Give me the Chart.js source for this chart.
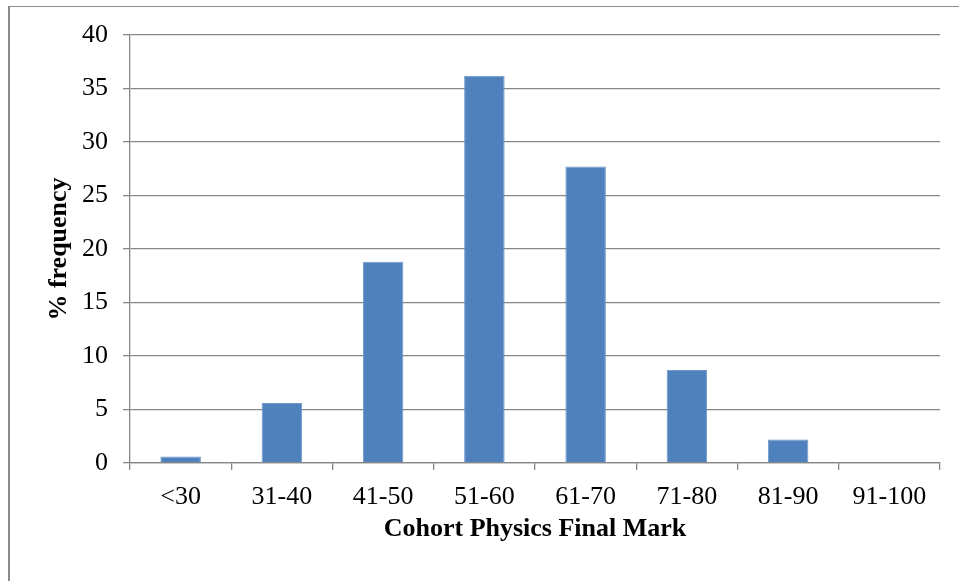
<!DOCTYPE html>
<html>
<head>
<meta charset="utf-8">
<script src="https://cdn.jsdelivr.net/npm/chart.js@4/dist/chart.umd.min.js"></script>
<style>
  html, body { margin: 0; padding: 0; background: #fff; }
  #wrap { position: relative; width: 959px; height: 581px; overflow: hidden; }
  #frame { position: absolute; left: 8px; top: 6px; width: 1000px; height: 700px;
           border-top: 1px solid #8c8c8c; border-left: 2px solid #8c8c8c; }
  canvas { position: absolute; left: 0; top: 0; }
</style>
</head>
<body>
<div id="wrap">
  <div id="frame"></div>
  <canvas id="chart" width="959" height="581"></canvas>
</div>
<script>
const categories = ['<30', '31-40', '41-50', '51-60', '61-70', '71-80', '81-90', '91-100'];
const frequency = [0.6, 5.6, 18.8, 36.2, 27.7, 8.7, 2.2, 0];
const yTicks = [0, 5, 10, 15, 20, 25, 30, 35, 40];

const serif = "'Liberation Serif', 'Times New Roman', serif";
const gridGray = '#878787';

new Chart(document.getElementById('chart').getContext('2d'), {
  type: 'bar',
  data: {
    labels: categories,
    datasets: [{
      label: '% frequency',
      data: frequency,
      backgroundColor: '#4F81BD',
      borderColor: '#6f98cc',
      borderWidth: 1,
      barPercentage: 0.4,
      categoryPercentage: 1
    }]
  },
  options: {
    responsive: false,
    animation: false,
    layout: { padding: { left: 0, right: 19, top: 35, bottom: 0 } },
    plugins: { legend: { display: false }, tooltip: { enabled: false } },
    scales: {
      x: {
        grid: { display: true, drawOnChartArea: false, offset: true, color: gridGray, lineWidth: 1.3, tickLength: 7 },
        border: { color: gridGray, width: 1.3 },
        ticks: { color: '#000', font: { family: serif, size: 26 }, padding: 12, maxRotation: 0 },
        title: { display: true, text: 'Cohort Physics Final Mark', color: '#000',
                 font: { family: serif, size: 26, weight: 'bold' }, padding: { top: 0, bottom: 36 } },
        afterFit: s => { s.height = 118; }
      },
      y: {
        min: 0, max: 40,
        afterBuildTicks: s => { s.ticks = yTicks.map(v => ({ value: v })); },
        grid: { color: gridGray, lineWidth: 1.3, tickLength: 7 },
        border: { color: gridGray, width: 1.3 },
        ticks: { color: '#000', font: { family: serif, size: 26 }, padding: 15 },
        title: { display: true, text: '% frequency', color: '#000',
                 font: { family: serif, size: 26, weight: 'bold' }, padding: { top: 44, bottom: 0 } },
        afterFit: s => { s.width = 130; }
      }
    }
  }
});
</script>
</body>
</html>
